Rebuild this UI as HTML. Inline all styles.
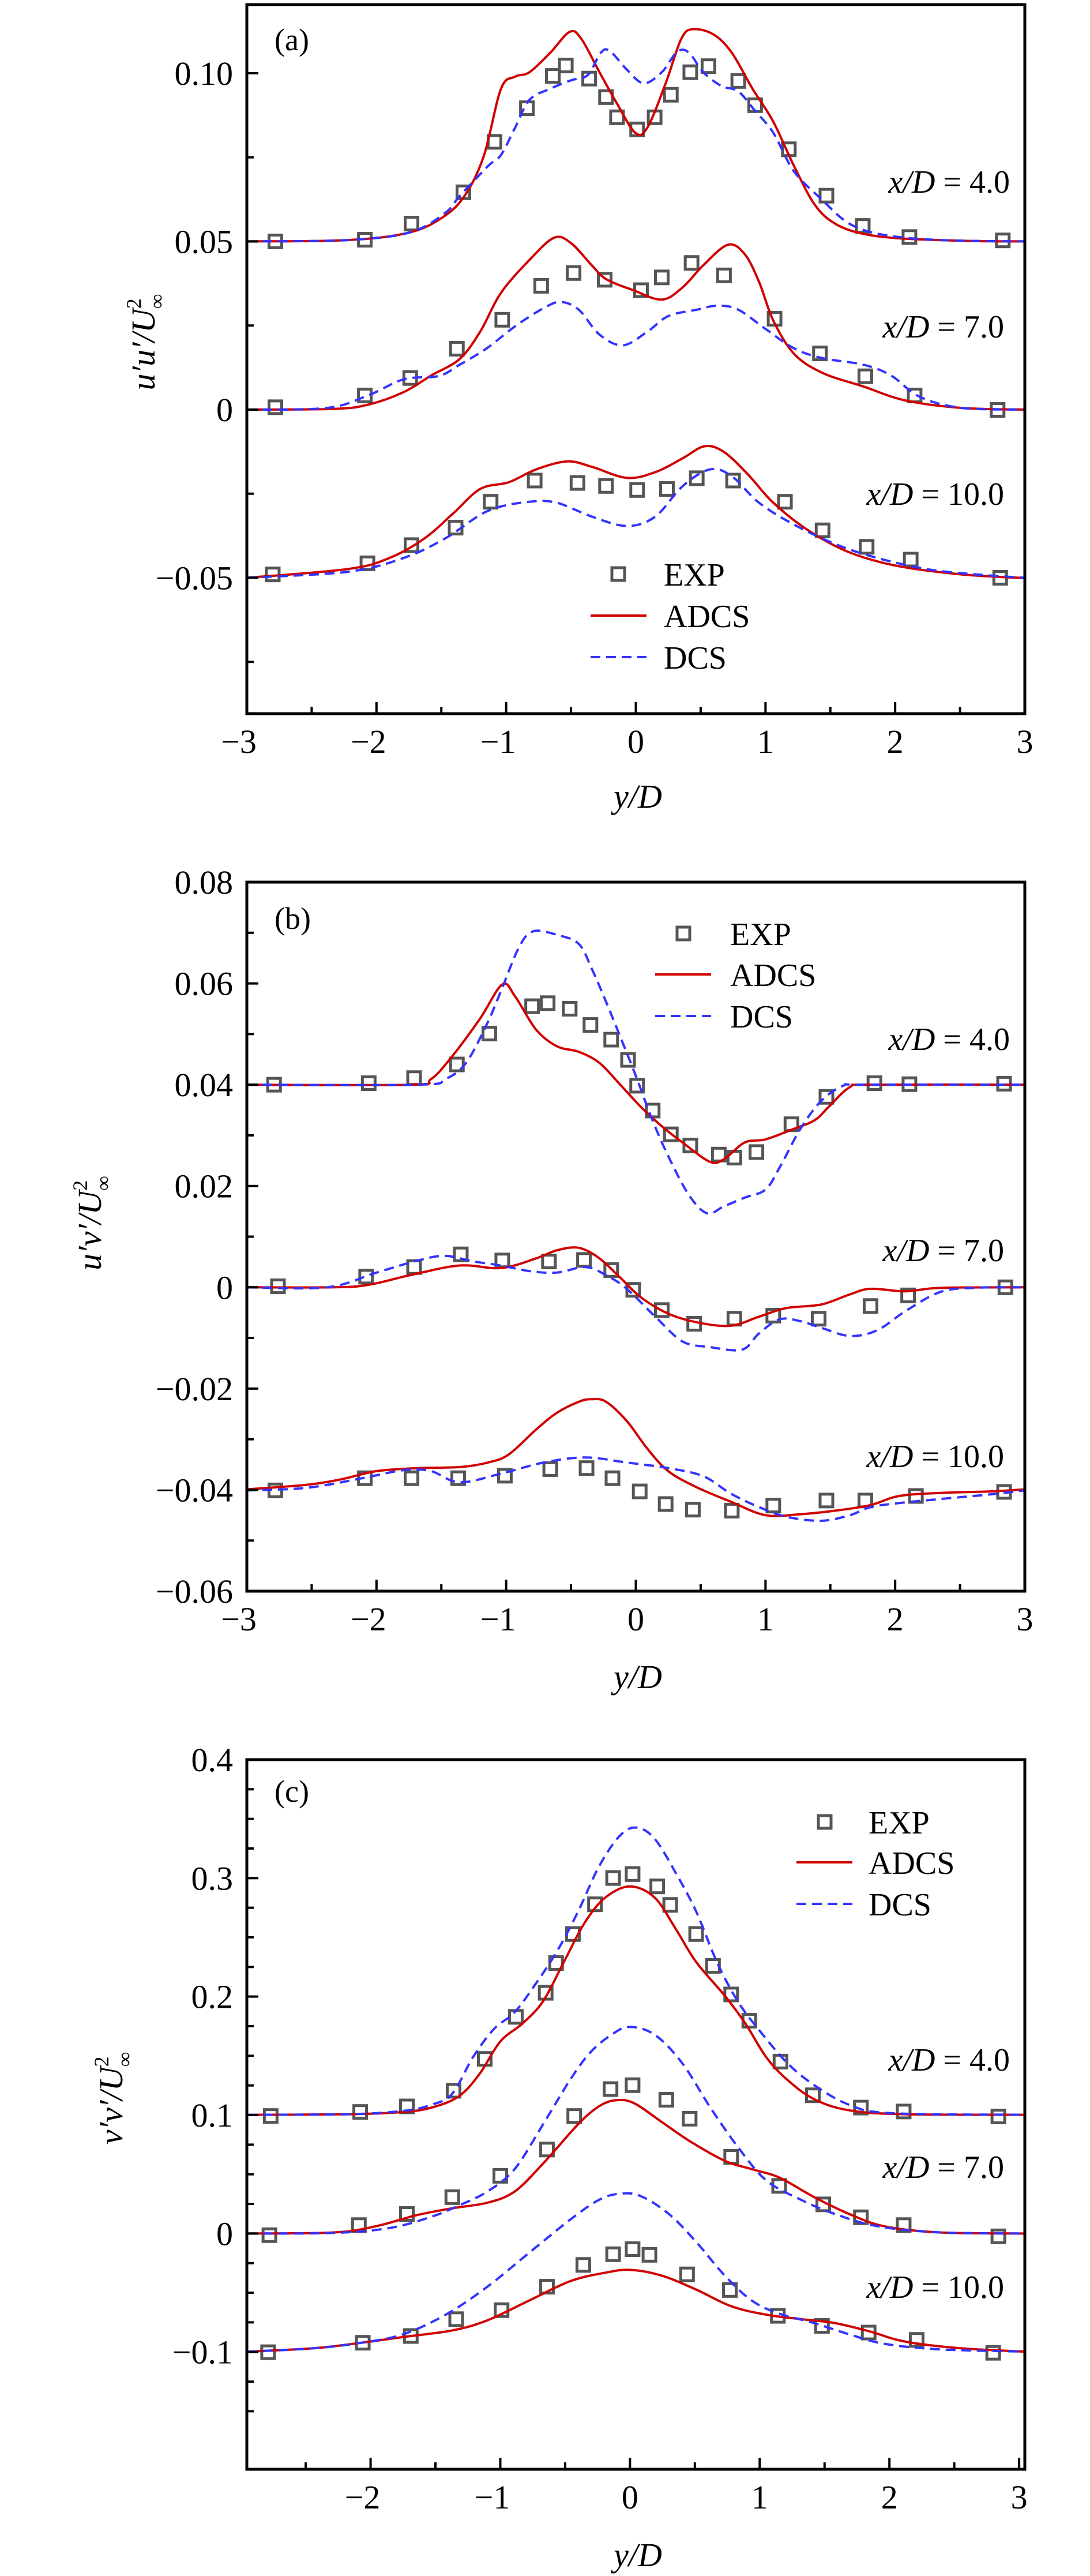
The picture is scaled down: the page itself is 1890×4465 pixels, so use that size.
<!DOCTYPE html>
<html><head><meta charset="utf-8"><style>
html,body{margin:0;padding:0;background:#fff;}
svg{display:block;}
text{font-family:"Liberation Serif",serif;fill:#000;}
</style></head><body>
<svg id="fig" width="1890" height="4465" viewBox="0 0 1890 4465" xmlns="http://www.w3.org/2000/svg"></svg>
<script>
// ===== Panel (a): u'u'/U^2 =====
const aExp4X=[-2.78,-2.09,-1.73,-1.33,-1.09,-0.84,-0.64,-0.54,-0.36,-0.23,-0.145,0.01,0.145,0.27,0.42,0.56,0.79,0.92,1.18,1.47,1.75,2.11,2.83];
const aExp4Y=[0.050,0.0505,0.0553,0.0646,0.0796,0.0896,0.0992,0.1023,0.0984,0.0929,0.0869,0.0833,0.0869,0.0936,0.1003,0.1021,0.0977,0.0905,0.0774,0.0636,0.0546,0.0513,0.0503];
const aAdcs4X=[-3,-2.22,-1.74,-1.47,-1.31,-1.17,-1.04,-0.93,-0.82,-0.66,-0.51,-0.42,-0.28,-0.15,-0.005,0.09,0.23,0.35,0.44,0.60,0.74,0.90,1.06,1.22,1.38,1.54,1.76,2.08,2.62,3];
const aAdcs4Y=[0.05,0.0504,0.0527,0.0577,0.0642,0.0757,0.0954,0.0990,0.1003,0.1061,0.1123,0.1102,0.1003,0.0913,0.0823,0.0839,0.0970,0.1102,0.1131,0.1115,0.1061,0.0954,0.0856,0.0724,0.0609,0.0552,0.0522,0.0508,0.0501,0.05];
const aDcs4X=[-3,-2.22,-1.74,-1.47,-1.36,-1.14,-1.04,-0.93,-0.82,-0.66,-0.50,-0.37,-0.27,-0.20,-0.07,0.06,0.20,0.32,0.41,0.52,0.66,0.79,0.92,1.06,1.22,1.43,1.65,1.92,2.35,3];
const aDcs4Y=[0.05,0.0504,0.0527,0.0585,0.0634,0.0724,0.0757,0.0839,0.0921,0.0954,0.0979,0.0995,0.1061,0.1066,0.1011,0.0970,0.1003,0.1064,0.1061,0.1003,0.0962,0.0946,0.0888,0.0823,0.0708,0.0626,0.0552,0.0519,0.0504,0.05];
const aExp7X=[-2.78,-2.09,-1.74,-1.38,-1.03,-0.73,-0.48,-0.24,0.04,0.20,0.43,0.68,1.07,1.42,1.77,2.15,2.79];
const aExp7Y=[0.0007,0.0042,0.0094,0.0181,0.0267,0.0368,0.0406,0.0386,0.0355,0.0393,0.0436,0.0399,0.0270,0.0167,0.0099,0.0042,-0.0001];
const aAdcs7X=[-3,-2.33,-2.06,-1.79,-1.58,-1.36,-1.20,-1.04,-0.82,-0.63,-0.50,-0.34,-0.23,-0.02,0.20,0.36,0.52,0.71,0.84,0.95,1.06,1.22,1.44,1.76,2.08,2.51,3];
const aAdcs7Y=[0,0.0002,0.0015,0.0052,0.0101,0.0150,0.0232,0.0347,0.0445,0.0511,0.0495,0.0429,0.0388,0.0355,0.0327,0.0363,0.0429,0.0490,0.0462,0.0380,0.0265,0.0166,0.0109,0.0068,0.0027,0.0005,0];
const aDcs7X=[-3,-2.38,-2.06,-1.79,-1.52,-1.36,-1.15,-0.93,-0.71,-0.58,-0.44,-0.28,-0.10,0.09,0.25,0.47,0.63,0.79,1.00,1.22,1.44,1.76,1.97,2.19,2.51,3];
const aDcs7Y=[0,0.0005,0.0043,0.0090,0.0100,0.0133,0.0182,0.0248,0.0302,0.0320,0.0297,0.0223,0.0191,0.0232,0.0278,0.0297,0.0309,0.0297,0.0240,0.0182,0.0153,0.0133,0.0101,0.0038,0.0005,0];
const aExp10X=[-2.80,-2.07,-1.73,-1.39,-1.12,-0.78,-0.45,-0.23,0.01,0.24,0.47,0.75,1.15,1.44,1.78,2.12,2.81];
const aExp10Y=[-0.0490,-0.0457,-0.0403,-0.0351,-0.0274,-0.0211,-0.0218,-0.0227,-0.0239,-0.0236,-0.0204,-0.0211,-0.0274,-0.0359,-0.0408,-0.0446,-0.0500];
const aAdcs10X=[-3,-2.22,-1.90,-1.63,-1.41,-1.20,-0.98,-0.77,-0.53,-0.34,-0.07,0.15,0.36,0.53,0.68,0.87,1.06,1.33,1.65,2.02,2.51,3];
const aAdcs10Y=[-0.0500,-0.0474,-0.0441,-0.0383,-0.0309,-0.0236,-0.0216,-0.0178,-0.0154,-0.0170,-0.0203,-0.0186,-0.0145,-0.0109,-0.0126,-0.0195,-0.0277,-0.0359,-0.0425,-0.0465,-0.0490,-0.0501];
const aDcs10X=[-3,-2.22,-1.79,-1.47,-1.14,-0.82,-0.61,-0.34,-0.07,0.15,0.36,0.57,0.74,0.95,1.22,1.54,1.86,2.24,2.62,3];
const aDcs10Y=[-0.0500,-0.0482,-0.0441,-0.0383,-0.0301,-0.0274,-0.0277,-0.0318,-0.0346,-0.0318,-0.0228,-0.0178,-0.0198,-0.0277,-0.0342,-0.0400,-0.0441,-0.0474,-0.0490,-0.0500];
const aYTicks=[0.10,0.05,0,-0.05];
const aYTickLabels=["0.10","0.05","0","−0.05"];
const aXTicks=[-3,-2,-1,0,1,2,3];
const aXTickLabels=["−3","−2","−1","0","1","2","3"];

// ===== Panel (b): u'v'/U^2 =====
const bExp4X=[-2.79,-2.06,-1.71,-1.38,-1.13,-0.80,-0.68,-0.51,-0.35,-0.19,-0.06,0.01,0.13,0.27,0.42,0.64,0.76,0.93,1.20,1.47,1.84,2.11,2.84];
const bExp4Y=[0.0400,0.0403,0.0413,0.0440,0.0501,0.0555,0.0561,0.0550,0.0518,0.0489,0.0449,0.0398,0.0349,0.0302,0.0280,0.0262,0.0256,0.0267,0.0322,0.0376,0.0403,0.0401,0.0402];
const bAdcs4X=[-3,-1.74,-1.58,-1.42,-1.20,-1.03,-0.93,-0.77,-0.61,-0.44,-0.28,-0.12,0.04,0.20,0.36,0.57,0.68,0.84,1.00,1.22,1.38,1.49,1.65,1.81,3];
const bAdcs4Y=[0.0400,0.0400,0.0411,0.0455,0.0531,0.0598,0.0574,0.0509,0.0476,0.0465,0.0443,0.0400,0.0356,0.0318,0.0286,0.0248,0.0253,0.0286,0.0292,0.0313,0.0330,0.0357,0.0395,0.0400,0.0400];
const bDcs4X=[-3,-1.68,-1.47,-1.31,-1.15,-1.04,-0.90,-0.79,-0.61,-0.44,-0.34,-0.23,-0.10,0.01,0.12,0.25,0.41,0.55,0.68,0.84,1.00,1.11,1.27,1.43,1.60,1.76,3];
const bDcs4Y=[0.0400,0.0400,0.0411,0.0443,0.0519,0.0585,0.0672,0.0703,0.0696,0.0678,0.0629,0.0564,0.0482,0.0411,0.0335,0.0259,0.0182,0.0146,0.0160,0.0177,0.0193,0.0237,0.0313,0.0368,0.0398,0.0400,0.0400];
const bExp7X=[-2.76,-2.08,-1.71,-1.35,-1.03,-0.67,-0.40,-0.19,-0.02,0.20,0.45,0.76,1.06,1.41,1.81,2.10,2.85];
const bExp7Y=[0.0002,0.0021,0.0040,0.0065,0.0053,0.0051,0.0054,0.0034,-0.0005,-0.0045,-0.0072,-0.0062,-0.0056,-0.0062,-0.0037,-0.0016,0];
const bAdcs7X=[-3,-2.33,-2.06,-1.74,-1.36,-1.04,-0.77,-0.61,-0.44,-0.28,-0.12,0.04,0.25,0.47,0.73,0.95,1.16,1.43,1.65,1.81,2.08,2.35,3];
const bAdcs7Y=[0,0,0.0005,0.0024,0.0043,0.0038,0.0057,0.0073,0.0078,0.0057,0.0019,-0.0020,-0.0052,-0.0069,-0.0076,-0.0058,-0.0041,-0.0034,-0.0014,-0.0003,-0.0008,-0.0001,0];
const bDcs7X=[-3,-2.38,-2.00,-1.68,-1.47,-1.25,-1.04,-0.82,-0.61,-0.39,-0.23,-0.07,0.15,0.36,0.57,0.82,0.95,1.11,1.27,1.43,1.65,1.86,2.08,2.35,2.62,3];
const bDcs7Y=[0,0,0.0029,0.0053,0.0062,0.0051,0.0043,0.0032,0.0029,0.0040,0.0024,-0.0003,-0.0058,-0.0107,-0.0118,-0.0123,-0.0091,-0.0063,-0.0067,-0.0080,-0.0096,-0.0085,-0.0047,-0.0009,-0.0001,0];
const bExp10X=[-2.78,-2.09,-1.73,-1.37,-1.01,-0.66,-0.38,-0.18,0.03,0.23,0.44,0.74,1.06,1.47,1.77,2.16,2.84];
const bExp10Y=[-0.0401,-0.0377,-0.0377,-0.0377,-0.0372,-0.0359,-0.0357,-0.0377,-0.0403,-0.0428,-0.0439,-0.0441,-0.0431,-0.0421,-0.0421,-0.0412,-0.0404];
const bAdcs10X=[-3,-2.54,-2.27,-2.00,-1.68,-1.36,-1.14,-0.98,-0.77,-0.61,-0.44,-0.34,-0.23,-0.07,0.09,0.25,0.47,0.73,1.00,1.27,1.54,1.81,2.03,2.35,2.73,3];
const bAdcs10Y=[-0.0399,-0.0390,-0.0379,-0.0363,-0.0357,-0.0355,-0.0346,-0.0330,-0.0281,-0.0248,-0.0226,-0.0221,-0.0226,-0.0264,-0.0319,-0.0363,-0.0395,-0.0423,-0.0450,-0.0448,-0.0441,-0.0430,-0.0412,-0.0406,-0.0403,-0.0399];
const bDcs10X=[-3,-2.54,-2.11,-1.79,-1.58,-1.36,-1.04,-0.71,-0.39,-0.07,0.25,0.52,0.73,0.95,1.16,1.43,1.65,1.81,2.03,2.35,2.73,3];
const bDcs10Y=[-0.0401,-0.0396,-0.0377,-0.0361,-0.0363,-0.0385,-0.0368,-0.0346,-0.0336,-0.0346,-0.0357,-0.0373,-0.0407,-0.0434,-0.0453,-0.0461,-0.0450,-0.0434,-0.0426,-0.0418,-0.0409,-0.0401];
const bYTicks=[0.08,0.06,0.04,0.02,0,-0.02,-0.04,-0.06];
const bYTickLabels=["0.08","0.06","0.04","0.02","0","−0.02","−0.04","−0.06"];
const bXTicks=[-3,-2,-1,0,1,2,3];
const bXTickLabels=["−3","−2","−1","0","1","2","3"];

// ===== Panel (c): v'v'/U^2 =====
const cExp4X=[-2.77,-2.08,-1.72,-1.36,-1.12,-0.88,-0.65,-0.57,-0.44,-0.27,-0.13,0.02,0.21,0.31,0.51,0.64,0.78,0.92,1.16,1.41,1.78,2.11,2.84];
const cExp4Y=[0.0992,0.1026,0.1073,0.1205,0.1474,0.1829,0.2032,0.2283,0.2528,0.2779,0.3001,0.3034,0.2930,0.2774,0.2528,0.2259,0.2018,0.1796,0.1451,0.1167,0.1063,0.1030,0.0988];
const cAdcs4X=[-2.95,-2.17,-1.75,-1.53,-1.32,-1.16,-1.00,-0.83,-0.67,-0.51,-0.35,-0.19,0,0.19,0.35,0.51,0.73,0.89,1.05,1.21,1.42,1.69,2.12,3.05];
const cAdcs4Y=[0.1002,0.1007,0.1026,0.1063,0.1158,0.1347,0.1621,0.1772,0.1961,0.2292,0.2623,0.2836,0.2930,0.2836,0.2576,0.2292,0.2008,0.1772,0.1489,0.1300,0.1134,0.1040,0.1007,0.1002];
const cDcs4X=[-2.95,-2.17,-1.75,-1.53,-1.37,-1.21,-1.05,-0.89,-0.73,-0.56,-0.40,-0.24,-0.08,0.05,0.19,0.35,0.51,0.67,0.83,0.99,1.21,1.42,1.69,2.01,3.05];
const cDcs4Y=[0.1002,0.1007,0.1035,0.1087,0.1181,0.1489,0.1725,0.1867,0.2103,0.2387,0.2718,0.3096,0.3356,0.3427,0.3332,0.3049,0.2718,0.2292,0.1962,0.1725,0.1442,0.1253,0.1087,0.1016,0.1002];
const cExp7X=[-2.78,-2.09,-1.72,-1.37,-1.00,-0.64,-0.43,-0.15,0.02,0.28,0.46,0.78,1.15,1.49,1.78,2.11,2.84];
const cExp7Y=[-0.0014,0.0071,0.0165,0.0307,0.0487,0.0709,0.0992,0.1219,0.1252,0.1129,0.0969,0.0647,0.0402,0.0246,0.0137,0.0071,-0.0024];
const cAdcs7X=[-2.95,-2.28,-1.96,-1.64,-1.37,-1.10,-0.89,-0.67,-0.40,-0.24,-0.11,0.03,0.24,0.46,0.73,0.94,1.15,1.42,1.69,1.96,2.39,3.05];
const cAdcs7Y=[0,0.0009,0.0061,0.0156,0.0213,0.0260,0.0354,0.0591,0.0922,0.1073,0.1125,0.1101,0.0945,0.0780,0.0614,0.0543,0.0473,0.0307,0.0165,0.0061,0.0009,0];
const cDcs7X=[-2.95,-2.28,-1.85,-1.53,-1.32,-1.10,-0.89,-0.67,-0.46,-0.30,-0.13,0,0.19,0.40,0.62,0.83,1.05,1.32,1.58,1.91,2.39,3.05];
const cDcs7Y=[0,0.0005,0.0047,0.0142,0.0236,0.0354,0.0543,0.0922,0.1300,0.1536,0.1687,0.1744,0.1678,0.1442,0.1063,0.0733,0.0449,0.0284,0.0165,0.0061,0.0009,0];
const cExp10X=[-2.79,-2.06,-1.69,-1.34,-0.99,-0.64,-0.36,-0.13,0.02,0.15,0.44,0.77,1.14,1.48,1.84,2.21,2.80];
const cExp10Y=[-0.1002,-0.0922,-0.0865,-0.0723,-0.0647,-0.0449,-0.0265,-0.0175,-0.0132,-0.0180,-0.0345,-0.0477,-0.0695,-0.0780,-0.0836,-0.0898,-0.1007];
const cAdcs10X=[-2.95,-2.44,-2.07,-1.75,-1.37,-1.10,-0.78,-0.46,-0.19,0,0.24,0.51,0.78,1.05,1.32,1.58,1.85,2.12,2.55,3.05];
const cAdcs10Y=[-0.0997,-0.0969,-0.0922,-0.0874,-0.0818,-0.0733,-0.0567,-0.0402,-0.0331,-0.0307,-0.0354,-0.0473,-0.0614,-0.0685,-0.0723,-0.0756,-0.0827,-0.0912,-0.0969,-0.0997];
const cDcs10X=[-2.95,-2.44,-2.07,-1.75,-1.42,-1.10,-0.78,-0.46,-0.24,-0.08,0.08,0.30,0.51,0.73,0.94,1.15,1.42,1.69,1.96,2.39,3.05];
const cDcs10Y=[-0.0997,-0.0969,-0.0922,-0.0851,-0.0685,-0.0449,-0.0165,0.0118,0.0284,0.0336,0.0317,0.0165,-0.0071,-0.0354,-0.0567,-0.0676,-0.0756,-0.0851,-0.0931,-0.0978,-0.0997];
const cYTicks=[0.4,0.3,0.2,0.1,0,-0.1];
const cYTickLabels=["0.4","0.3","0.2","0.1","0","−0.1"];
const cXTicks=[-2,-1,0,1,2,3];
const cXTickLabels=["−2","−1","0","1","2","3"];

const NS="http://www.w3.org/2000/svg";
const svg=document.getElementById('fig');
function mk(tag,attrs,parent){const e=document.createElementNS(NS,tag);for(const k in attrs)e.setAttribute(k,attrs[k]);(parent||svg).appendChild(e);return e;}
function smoothPath(pts){
  let d="M"+pts[0][0].toFixed(1)+","+pts[0][1].toFixed(1);
  for(let i=0;i<pts.length-1;i++){
    const p0=pts[Math.max(0,i-1)],p1=pts[i],p2=pts[i+1],p3=pts[Math.min(pts.length-1,i+2)];
    const c1x=p1[0]+(p2[0]-p0[0])/6,c1y=p1[1]+(p2[1]-p0[1])/6;
    const c2x=p2[0]-(p3[0]-p1[0])/6,c2y=p2[1]-(p3[1]-p1[1])/6;
    d+=" C"+c1x.toFixed(1)+","+c1y.toFixed(1)+" "+c2x.toFixed(1)+","+c2y.toFixed(1)+" "+p2[0].toFixed(1)+","+p2[1].toFixed(1);
  }
  return d;
}
const RED="#d10000",BLUE="#3333ff",GREY="#555555";

function panel(cfg){
  const g=mk('g',{});
  
  
  const L=428,R=1777,T=cfg.top,B=cfg.bottom;
  const sx=v=>L+(v-cfg.xmin)/(cfg.xmax-cfg.xmin)*(R-L);
  const sy=v=>T+(cfg.ymax-v)/(cfg.ymax-cfg.ymin)*(B-T);
  // clip
  const cid='clip'+cfg.key;
  const cp=mk('clipPath',{id:cid},g);mk('rect',{x:L,y:T,width:R-L,height:B-T},cp);
  // series
  const data=mk('g',{'clip-path':'url(#'+cid+')'},g);
  
  
  cfg.series.forEach(s=>{
    const pts=s.x.map((xv,i)=>[sx(xv),sy(s.y[i])]);
    if(s.type==='exp'){
      const sg=mk('g',{},data);
      
      
      pts.forEach(p=>{
        const r=mk('rect',{x:p[0]-11,y:p[1]-11,width:22,height:22,fill:'none',stroke:GREY,'stroke-width':5},sg);
        
        
      });
    } else {
      const a={d:smoothPath(pts),fill:'none',stroke:s.type==='adcs'?RED:BLUE,'stroke-width':4,'stroke-linejoin':'round'};
      if(s.type==='dcs'){a['stroke-dasharray']='17,10';}
      const p=mk('path',a,data);
      
      
    }
  });
  // frame
  const fr=mk('rect',{x:L,y:T,width:R-L,height:B-T,fill:'none',stroke:'#000','stroke-width':5},g);
  
  
  // x ticks
  for(let v=Math.ceil(cfg.xmin*2)/2;v<=cfg.xmax+1e-9;v+=0.5){
    const major=Math.abs(v-Math.round(v))<1e-6;
    const len=major?20:12;
    const t=mk('line',{x1:sx(v),x2:sx(v),y1:B,y2:B-len,stroke:'#000','stroke-width':4},g);
    
    
  }
  cfg.xt.forEach((v,i)=>{
    const t=mk('text',{x:sx(v)-(cfg.xl[i][0]==='−'?14:0),y:B+68,'text-anchor':'middle','font-size':58},g);
    t.textContent=cfg.xl[i];
    
    
  });
  // y ticks
  const n=Math.round((cfg.ymax-cfg.ymin)/cfg.minor);
  for(let k=-2;k<=n+2;k++){
    const v=cfg.yt[cfg.yt.length-1]+k*cfg.minor;
    if(v<cfg.ymin-1e-9||v>cfg.ymax+1e-9)continue;
    const ratio=v/cfg.major;const major=Math.abs(ratio-Math.round(ratio))<1e-6;
    const len=major?20:12;
    const t=mk('line',{x1:L,x2:L+len,y1:sy(v),y2:sy(v),stroke:'#000','stroke-width':4},g);
    
    
  }
  cfg.yt.forEach((v,i)=>{
    const t=mk('text',{x:L-24,y:sy(v)+20,'text-anchor':'end','font-size':58},g);
    t.textContent=cfg.yl[i];
    
    
  });
  // x axis title
  const xt=mk('text',{x:1106,y:cfg.xTitleY,'text-anchor':'middle','font-size':58,'font-style':'italic'},g);
  xt.textContent='y/D';
  
  
  // y axis title
  const yt=mk('text',{transform:'translate('+cfg.yTitleX+','+cfg.yTitleY+') rotate(-90)','text-anchor':'middle','font-size':58,'font-style':'italic'},g);
  
  
  const t1=mk('tspan',{},yt);t1.textContent=cfg.ytitle+'/U';
  const t2=mk('tspan',{dy:-24,'font-size':36,'font-style':'normal'},yt);t2.textContent='2';
  const t3=mk('tspan',{dx:-18,dy:40,'font-size':36,'font-style':'normal'},yt);t3.textContent='∞';
  // panel tag
  const pt=mk('text',{x:476,y:cfg.tagY+18,'font-size':54},g);
  pt.textContent=cfg.tag;
  
  
  // station labels
  cfg.stations.forEach(s=>{
    const t=mk('text',{x:s.x,y:s.y+18,'text-anchor':'end','font-size':56},g);
    
    
    const a=mk('tspan',{'font-style':'italic'},t);a.textContent='x/D';
    const b=mk('tspan',{},t);b.textContent=' = '+s.v;
  });
  // legend
  const lg=mk('g',{},g);
  
  
  const Lg=cfg.legend;
  const m=mk('rect',{x:Lg.mx-11,y:Lg.y0-11,width:22,height:22,fill:'none',stroke:GREY,'stroke-width':5},lg);
  
  
  const l1=mk('line',{x1:Lg.lx1,x2:Lg.lx2,y1:Lg.y1,y2:Lg.y1,stroke:RED,'stroke-width':4},lg);
  
  
  const l2=mk('line',{x1:Lg.lx1,x2:Lg.lx2,y1:Lg.y2,y2:Lg.y2,stroke:BLUE,'stroke-width':4,'stroke-dasharray':'17,10'},lg);
  
  
  [['EXP',Lg.y0],['ADCS',Lg.y1],['DCS',Lg.y2]].forEach(e=>{
    const t=mk('text',{x:Lg.tx,y:e[1]+20,'font-size':56},lg);
    t.textContent=e[0];
    
    
  });
}

panel({key:'a',name:'chart-a-uu',tag:'(a)',top:8,bottom:1237,xmin:-3,xmax:3,ymin:-0.0904,ymax:0.1204,major:0.05,minor:0.025,
  yt:aYTicks,yl:aYTickLabels,xt:aXTicks,xl:aXTickLabels,xTitleY:1400,yTitleX:268,yTitleY:593,ytitle:"u′u′",tagY:69,
  stations:[{x:1751,y:316,v:'4.0'},{x:1741,y:567,v:'7.0'},{x:1741,y:857,v:'10.0'}],
  legend:{mx:1072,tx:1151,lx1:1024,lx2:1121,y0:995,y1:1067,y2:1139},
  series:[{type:'exp',name:'exp-x4',x:aExp4X,y:aExp4Y},{type:'adcs',name:'adcs-x4',x:aAdcs4X,y:aAdcs4Y},{type:'dcs',name:'dcs-x4',x:aDcs4X,y:aDcs4Y},
    {type:'exp',name:'exp-x7',x:aExp7X,y:aExp7Y},{type:'adcs',name:'adcs-x7',x:aAdcs7X,y:aAdcs7Y},{type:'dcs',name:'dcs-x7',x:aDcs7X,y:aDcs7Y},
    {type:'exp',name:'exp-x10',x:aExp10X,y:aExp10Y},{type:'adcs',name:'adcs-x10',x:aAdcs10X,y:aAdcs10Y},{type:'dcs',name:'dcs-x10',x:aDcs10X,y:aDcs10Y}]});

panel({key:'b',name:'chart-b-uv',tag:'(b)',top:1529,bottom:2758,xmin:-3,xmax:3,ymin:-0.06,ymax:0.08,major:0.02,minor:0.01,
  yt:bYTicks,yl:bYTickLabels,xt:bXTicks,xl:bXTickLabels,xTitleY:2926,yTitleX:175,yTitleY:2120,ytitle:"u′v′",tagY:1592,
  stations:[{x:1751,y:1802,v:'4.0'},{x:1741,y:2168,v:'7.0'},{x:1741,y:2525,v:'10.0'}],
  legend:{mx:1185,tx:1266,lx1:1136,lx2:1233,y0:1618,y1:1689,y2:1761},
  series:[{type:'exp',name:'exp-x4',x:bExp4X,y:bExp4Y},{type:'adcs',name:'adcs-x4',x:bAdcs4X,y:bAdcs4Y},{type:'dcs',name:'dcs-x4',x:bDcs4X,y:bDcs4Y},
    {type:'exp',name:'exp-x7',x:bExp7X,y:bExp7Y},{type:'adcs',name:'adcs-x7',x:bAdcs7X,y:bAdcs7Y},{type:'dcs',name:'dcs-x7',x:bDcs7X,y:bDcs7Y},
    {type:'exp',name:'exp-x10',x:bExp10X,y:bExp10Y},{type:'adcs',name:'adcs-x10',x:bAdcs10X,y:bAdcs10Y},{type:'dcs',name:'dcs-x10',x:bDcs10X,y:bDcs10Y}]});

panel({key:'c',name:'chart-c-vv',tag:'(c)',top:3050,bottom:4280,xmin:-2.954,xmax:3.044,ymin:-0.199,ymax:0.4,major:0.1,minor:0.025,
  yt:cYTicks,yl:cYTickLabels,xt:cXTicks,xl:cXTickLabels,xTitleY:4448,yTitleX:212,yTitleY:3637,ytitle:"v′v′",tagY:3105,
  stations:[{x:1751,y:3571,v:'4.0'},{x:1741,y:3757,v:'7.0'},{x:1741,y:3965,v:'10.0'}],
  legend:{mx:1430,tx:1506,lx1:1381,lx2:1478,y0:3158,y1:3228,y2:3300},
  series:[{type:'exp',name:'exp-x4',x:cExp4X,y:cExp4Y},{type:'adcs',name:'adcs-x4',x:cAdcs4X,y:cAdcs4Y},{type:'dcs',name:'dcs-x4',x:cDcs4X,y:cDcs4Y},
    {type:'exp',name:'exp-x7',x:cExp7X,y:cExp7Y},{type:'adcs',name:'adcs-x7',x:cAdcs7X,y:cAdcs7Y},{type:'dcs',name:'dcs-x7',x:cDcs7X,y:cDcs7Y},
    {type:'exp',name:'exp-x10',x:cExp10X,y:cExp10Y},{type:'adcs',name:'adcs-x10',x:cAdcs10X,y:cAdcs10Y},{type:'dcs',name:'dcs-x10',x:cDcs10X,y:cDcs10Y}]});
</script>
</body></html>
